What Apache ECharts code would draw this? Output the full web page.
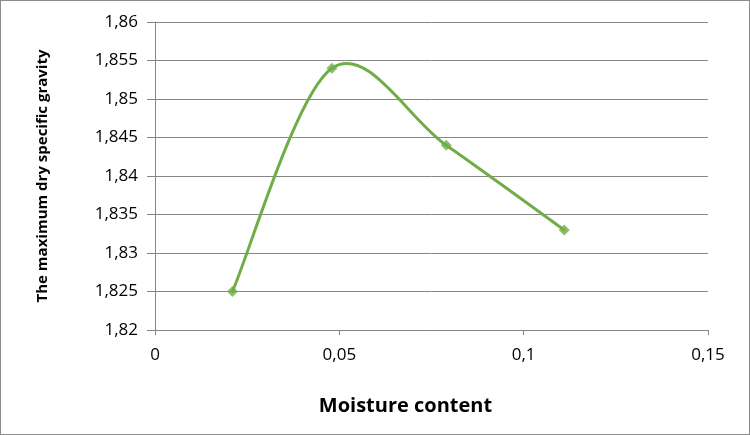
<!DOCTYPE html>
<html><head><meta charset="utf-8">
<script src="https://cdn.jsdelivr.net/npm/echarts@6/dist/echarts.min.js"></script>
<style>html,body{margin:0;padding:0;background:#fff}#c{width:750px;height:435px;box-sizing:border-box;border:1px solid #8c8c8c}</style>
</head><body><div id="c"></div>
<script>
const moisture = [0.021, 0.048, 0.079, 0.111];
const gravity = [1.825, 1.854, 1.844, 1.833];
const xTitle = 'Moisture content';
const yTitle = 'The maximum dry specific gravity';
const fmt = v => String(+v.toFixed(3)).replace('.', ',');
const pts = moisture.map((x, i) => [x, gravity[i]]);
const chart = echarts.init(document.getElementById('c'));

// Excel-style smoothed line: cubic Bezier segments through the data points,
// positioned via the chart's own coordinate system (api.coord).
function renderSegment(params, api) {
  const i = params.dataIndex;
  const n = pts.length;
  if (i >= n - 1) return null;
  const P = k => api.coord(pts[Math.max(0, Math.min(n - 1, k))]);
  const p0 = P(i - 1), p1 = P(i), p2 = P(i + 1), p3 = P(i + 2);
  const c1 = [p1[0] + (p2[0] - p0[0]) / 6, p1[1] + (p2[1] - p0[1]) / 6];
  const c2 = [p2[0] - (p3[0] - p1[0]) / 6, p2[1] - (p3[1] - p1[1]) / 6];
  return {
    type: 'bezierCurve',
    shape: {x1: p1[0], y1: p1[1], cpx1: c1[0], cpy1: c1[1], cpx2: c2[0], cpy2: c2[1], x2: p2[0], y2: p2[1]},
    style: {stroke: '#70AD47', lineWidth: 3, fill: null, lineCap: 'round'}
  };
}

chart.setOption({
  animation: false,
  grid: {left: 154, right: 41, top: 21, bottom: 104, containLabel: false},
  xAxis: {
    type: 'value', min: 0, max: 0.15, interval: 0.05,
    name: xTitle, nameLocation: 'middle', nameGap: 66,
    nameTextStyle: {fontFamily: 'Open Sans', fontSize: 20, fontWeight: 'bold', color: '#000', padding: [0, 52, 0, 0]},
    axisLine: {show: true, lineStyle: {color: '#868686'}},
    axisTick: {show: true, length: 5, lineStyle: {color: '#868686'}},
    axisLabel: {formatter: fmt, fontFamily: 'Open Sans', fontSize: 17, color: '#000', margin: 17},
    splitLine: {show: false}
  },
  yAxis: {
    type: 'value', min: 1.82, max: 1.86, interval: 0.005,
    name: yTitle, nameLocation: 'middle', nameGap: 105, nameRotate: 90,
    nameTextStyle: {fontFamily: 'Open Sans', fontSize: 15, fontWeight: 'bold', color: '#000'},
    axisLine: {show: true, lineStyle: {color: '#868686'}},
    axisTick: {show: true, length: 8, lineStyle: {color: '#868686'}},
    axisLabel: {formatter: fmt, fontFamily: 'Open Sans', fontSize: 17, color: '#000', margin: 17},
    splitLine: {show: true, lineStyle: {color: '#868686', width: 1}}
  },
  series: [{
    type: 'custom', renderItem: renderSegment, data: pts, z: 2, clip: false
  }, {
    type: 'scatter', data: pts, symbol: 'diamond', symbolSize: 11, z: 3,
    itemStyle: {color: '#70AD47'}
  }]
});
</script></body></html>
